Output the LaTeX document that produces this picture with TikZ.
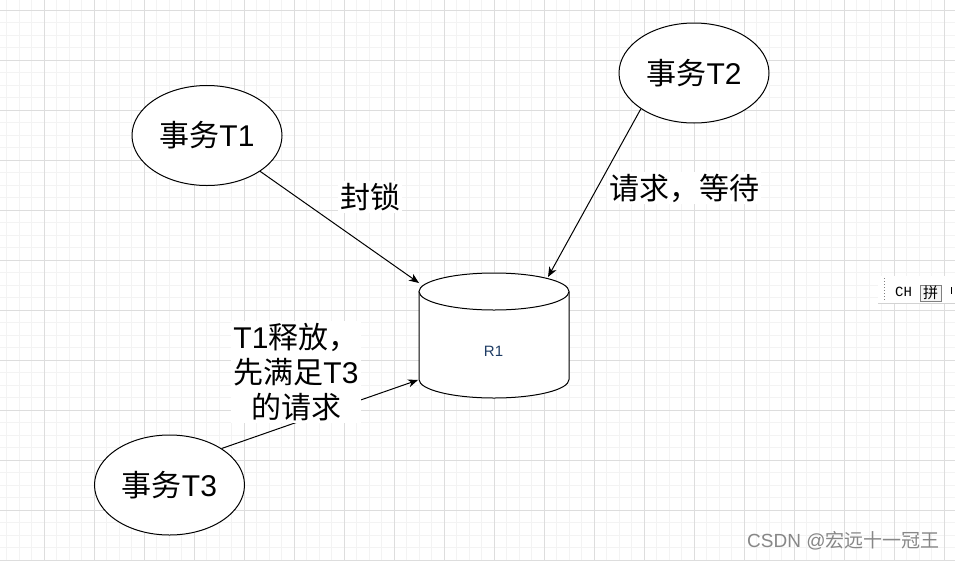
\documentclass[tikz,border=0pt]{standalone}
\usepackage{fontspec}
\setmainfont{Liberation Sans}
\setmonofont{Liberation Mono}
\newfontfamily\cjk{Noto Sans CJK SC}
\usetikzlibrary{arrows.meta,shapes.geometric}
\definecolor{gridminor}{RGB}{243,243,243}
\definecolor{gridmajor}{RGB}{221,221,221}
\definecolor{wmgray}{RGB}{135,135,135}
\definecolor{rtext}{RGB}{30,60,100}
\begin{document}
\begin{tikzpicture}[x=1pt,y=-1pt,
  ell/.style={ellipse,draw,line width=1pt,fill=white,minimum width=150pt,minimum height=100pt,inner sep=0pt,font=\fontsize{30}{36}\selectfont},
  lbl/.style={fill=white,inner sep=2pt,align=center,font=\fontsize{30}{35}\selectfont},
  conn/.style={line width=1pt,-{Stealth[length=10pt,width=8pt,inset=3pt]}},
  cyl/.style={line width=1pt,fill=white}]
\useasboundingbox (0,0) rectangle (955,560);
\fill[white] (0,0) rectangle (955,560);
% grid
\foreach \k in {0,...,76} {\draw[gridminor,line width=0.8pt] ({6.8+12.5*\k},0) -- ({6.8+12.5*\k},560);}
\foreach \k in {0,...,44} {\draw[gridminor,line width=0.8pt] (0,{10+12.5*\k}) -- (955,{10+12.5*\k});}
\foreach \k in {0,...,18} {\draw[gridmajor,line width=0.8pt] ({44.3+50*\k},0) -- ({44.3+50*\k},560);}
\foreach \k in {0,...,11} {\draw[gridmajor,line width=0.8pt] (0,{10+50*\k}) -- (955,{10+50*\k});}
% ellipses
\node[ell] (t1) at (207,135.5) {{\cjk 事务}T1};
\node[ell] (t2) at (694,73) {{\cjk 事务}T2};
\node[ell] (t3) at (169.5,485) {{\cjk 事务}T3};
% cylinder
\draw[cyl] (419,291.5) -- (419,379.5) arc[start angle=180,end angle=0,x radius=75,y radius=18.5] -- (569,291.5);
\draw[cyl] (494,291.5) ellipse[x radius=75,y radius=18.5];
\node[font=\fontsize{15}{18}\selectfont,text=rtext] (r1) at (493.5,351) {R1};
\coordinate (c1) at (419,283);
\coordinate (c2) at (548,277);
\coordinate (c3) at (418,380);
% connectors
\draw[conn] (t1.326) -- (c1);
\draw[conn] (t2.214) -- (c2);
\draw[conn] (t3.35) -- (c3);
% labels
\node[lbl] (l1) at (370,197) {{\cjk 封锁}};
\node[lbl] (l2) at (684,188) {{\cjk 请求，等待}};
\node[lbl] (l3) at (296,372) {T1{\cjk 释放，}\\{\cjk 先满足}T3\\{\cjk 的请求}};
% IME toolbar
\fill[white] (878,276) rectangle (955,303);
\draw[gray!35] (878,303) -- (955,303);
\draw[gray,dotted,line width=1pt] (884,278) -- (884,302);
\node[font=\ttfamily\fontsize{14}{14}\selectfont,inner sep=0pt] (ch) at (903.5,292) {CH};
\node[draw=gray,fill=gray!8,inner sep=0.5pt,minimum width=21pt,minimum height=16pt,font=\cjk\fontsize{15}{15}\selectfont] (pin) at (930.5,293) {拼};
\draw[line width=0.8pt] (951,287) -- (951,294);
% watermark
\node[text=wmgray,font=\fontsize{19}{21}\selectfont,anchor=west,inner sep=0pt] (wm) at (747,541) {CSDN @{\cjk 宏远十一冠王}};
\end{tikzpicture}
\end{document}
